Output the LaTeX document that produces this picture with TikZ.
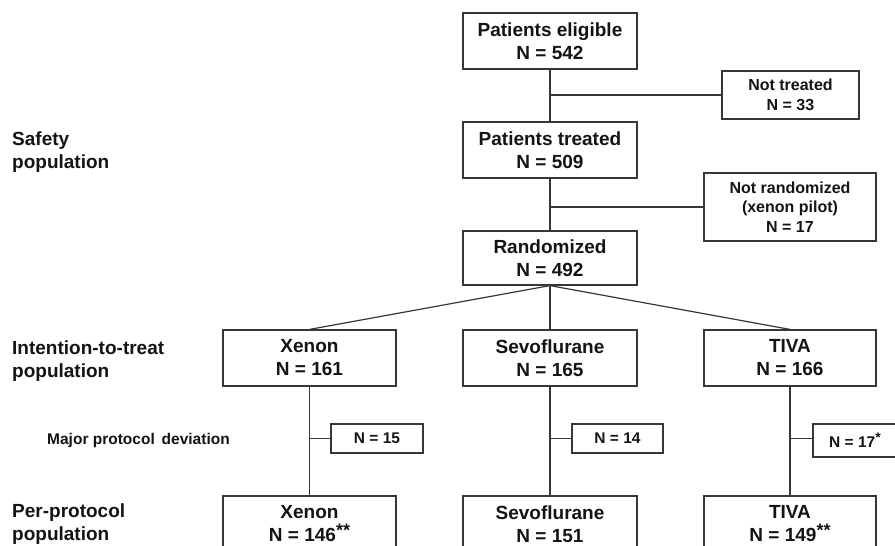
\documentclass[tikz,border=0pt]{standalone}
\usepackage{fontspec}
\setmainfont{Liberation Sans}
\newcommand{\starsup}[1]{\raisebox{0.3em}{\fontsize{18}{18}\selectfont #1}}
\begin{document}
\begin{tikzpicture}[x=1pt,y=-1pt,
  lc/.style={draw={rgb,255:red,55;green,55;blue,55}, line width=1.2pt},
  bigbox/.style={lc, fill=white, align=center, inner sep=0pt,
    font=\fontsize{19}{23}\selectfont\bfseries, text={rgb,255:red,20;green,20;blue,20}},
  sidebox/.style={lc, fill=white, align=center, inner sep=0pt,
    font=\fontsize{16}{19.5}\selectfont\bfseries, text={rgb,255:red,20;green,20;blue,20}},
  devbox/.style={lc, fill=white, align=center, inner sep=0pt,
    font=\fontsize{15.5}{18}\selectfont\bfseries, text={rgb,255:red,20;green,20;blue,20}},
  sidelabel/.style={align=left, inner sep=0pt, anchor=west,
    font=\fontsize{19}{23}\selectfont\bfseries, text={rgb,255:red,20;green,20;blue,20}},
  conn/.style={lc}
]
\useasboundingbox (0,0) rectangle (895,546);
\clip (0,0) rectangle (895,546);
\fill[white] (0,0) rectangle (895,546);

% main column
\node[bigbox, minimum width=174pt, minimum height=56pt] (elig) at (550,41) {Patients eligible\\N = 542};
\node[bigbox, minimum width=174pt, minimum height=56pt] (treat) at (550,150) {Patients treated\\N = 509};
\node[bigbox, minimum width=174pt, minimum height=54pt] (rand) at (550,258) {Randomized\\N = 492};

% side boxes
\node[sidebox, minimum width=137pt, minimum height=48pt] (nottr) at (790.5,95) {Not treated\\N = 33};
\node[sidebox, minimum width=172pt, minimum height=68pt] (notrand) at (790,207) {Not randomized\\(xenon pilot)\\N = 17};

% ITT boxes
\node[bigbox, minimum width=173pt, minimum height=56pt] (ittx) at (309.5,358) {Xenon\\N = 161};
\node[bigbox, minimum width=174pt, minimum height=56pt] (itts) at (550,358) {Sevoflurane\\N = 165};
\node[bigbox, minimum width=172pt, minimum height=56pt] (ittt) at (790,358) {TIVA\\N = 166};

% deviation boxes
\node[devbox, minimum width=92pt, minimum height=29pt] (devx) at (377,438.5) {N = 15};
\node[devbox, minimum width=91pt, minimum height=29pt] (devs) at (617.5,438.5) {N = 14};
\node[devbox, minimum width=84pt, minimum height=33pt] (devt) at (855,440.5) {N = 17\raisebox{0.3em}{\fontsize{14}{14}\selectfont *}};

% PP boxes
\node[bigbox, minimum width=173pt, minimum height=56pt] (ppx) at (309.5,524) {Xenon\\N = 146\starsup{**}};
\node[bigbox, minimum width=174pt, minimum height=56pt] (pps) at (550,524) {Sevoflurane\\N = 151};
\node[bigbox, minimum width=172pt, minimum height=56pt] (ppt) at (790,524) {TIVA\\N = 149\starsup{**}};

% left labels
\node[sidelabel] (lsafe) at (12,152.5) {Safety\\population};
\node[sidelabel] (litt) at (12,361.5) {Intention-to-treat\\population};
\node[sidelabel] (lpp) at (12,524.5) {Per-protocol\\population};
\node[anchor=base west, inner sep=0pt, font=\fontsize{15.5}{18}\selectfont\bfseries,
  text={rgb,255:red,20;green,20;blue,20}] (ldev) at (47,444) {Major protocol\ \,deviation};

% connectors
\draw[conn] (elig.south) -- (treat.north);
\draw[conn] (elig.south |- nottr.west) -- (nottr.west);
\draw[conn] (treat.south) -- (rand.north);
\draw[conn] (treat.south |- notrand.west) -- (notrand.west);
\draw[conn] (rand.south) -- (ittx.north);
\draw[conn] (rand.south) -- (itts.north);
\draw[conn] (rand.south) -- (ittt.north);
\draw[conn] (ittx.south) -- (ppx.north);
\draw[conn] (itts.south) -- (pps.north);
\draw[conn] (ittt.south) -- (ppt.north);
\draw[conn] (ittx.south |- devx.west) -- (devx.west);
\draw[conn] (itts.south |- devs.west) -- (devs.west);
\draw[conn] (ittt.south |- devx.west) -- (devt.west |- devx.west);
\end{tikzpicture}
\end{document}
